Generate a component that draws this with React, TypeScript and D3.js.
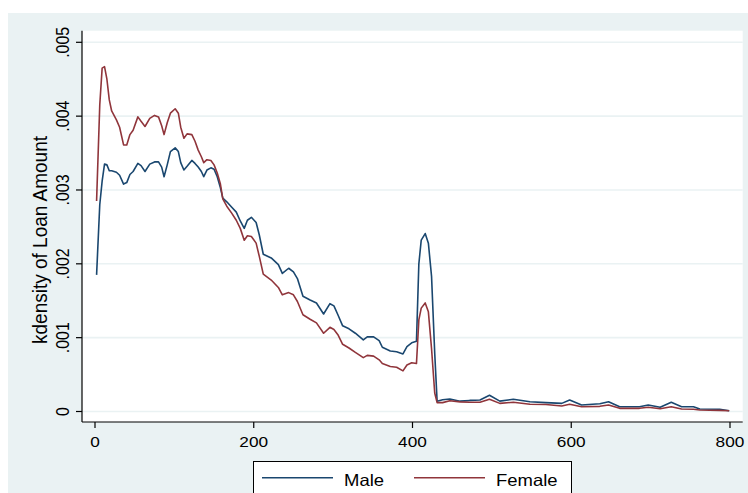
import * as d3 from 'd3'
import { useEffect, useRef } from 'react'

// loan amount grid (x) and kernel density values, in units of 0.001
const loanAmount = [
  2, 6, 9, 12, 15, 18, 21, 27, 31, 36,
  40, 44, 48, 54, 58, 63, 69, 75, 80, 84,
  87, 91, 95, 101, 105, 108, 112, 116, 122, 126,
  130, 134, 137, 141, 146, 150, 154, 158, 161, 166,
  172, 178, 183, 188, 192, 197, 203, 207, 212, 222,
  231, 236, 244, 250, 255, 262, 271, 279, 288, 296,
  301, 306, 312, 320, 328, 338, 343, 351, 358, 362,
  372, 380, 388, 393, 399, 405, 408, 411, 416, 420,
  424, 428, 431, 438, 447, 460, 472, 485, 497, 510,
  527, 548, 568, 588, 598, 613, 636, 647, 661, 686,
  697, 712, 726, 739, 754, 762, 787, 799,
]
const maleDensity = [
  1.85, 2.8, 3.12, 3.35, 3.34, 3.26, 3.26, 3.24, 3.2, 3.08,
  3.1, 3.21, 3.25, 3.36, 3.33, 3.25, 3.35, 3.38, 3.38, 3.31,
  3.18, 3.34, 3.52, 3.57, 3.52, 3.37, 3.27, 3.32, 3.4, 3.36,
  3.31, 3.25, 3.18, 3.27, 3.3, 3.28, 3.18, 3.03, 2.89, 2.84,
  2.77, 2.7, 2.58, 2.48, 2.59, 2.63, 2.56, 2.39, 2.13, 2.08,
  1.99, 1.87, 1.94, 1.89, 1.8, 1.56, 1.51, 1.47, 1.32, 1.46,
  1.43, 1.31, 1.16, 1.12, 1.06, 0.97, 1.01, 1.01, 0.96, 0.87,
  0.82, 0.81, 0.78, 0.88, 0.93, 0.95, 2.0, 2.32, 2.41, 2.28,
  1.83, 0.79, 0.14, 0.16, 0.17, 0.14, 0.15, 0.156, 0.22, 0.14,
  0.165, 0.133, 0.12, 0.11, 0.156, 0.088, 0.106, 0.133, 0.065, 0.065,
  0.088, 0.057, 0.125, 0.065, 0.065, 0.034, 0.03, 0.011,
]
const femaleDensity = [
  2.85, 4.15, 4.65, 4.67, 4.5, 4.22, 4.07, 3.95, 3.85, 3.61,
  3.61, 3.75, 3.81, 3.99, 3.93, 3.86, 3.97, 4.01, 3.99, 3.87,
  3.75, 3.91, 4.04, 4.1, 4.04, 3.85, 3.7, 3.76, 3.75, 3.66,
  3.54, 3.45, 3.37, 3.41, 3.4, 3.34, 3.23, 3.08, 2.88, 2.78,
  2.69, 2.59, 2.48, 2.32, 2.38, 2.37, 2.28, 2.1, 1.86, 1.78,
  1.68, 1.58, 1.61, 1.58, 1.49, 1.31, 1.25, 1.2, 1.06, 1.14,
  1.11, 1.04, 0.91, 0.86, 0.8, 0.73, 0.76, 0.75, 0.7, 0.65,
  0.61, 0.6, 0.55, 0.63, 0.66, 0.65, 1.24, 1.4, 1.47, 1.35,
  0.85, 0.25, 0.12, 0.12, 0.146, 0.13, 0.125, 0.125, 0.165, 0.11,
  0.125, 0.098, 0.095, 0.075, 0.098, 0.065, 0.07, 0.088, 0.043, 0.043,
  0.057, 0.038, 0.065, 0.034, 0.03, 0.02, 0.015, 0.011,
]
const xTicks = [0, 200, 400, 600, 800]
const yTicks = [0, 0.001, 0.002, 0.003, 0.004, 0.005]
const yTickLabels = ['0', '.001', '.002', '.003', '.004', '.005']
const seriesNames = ['Male', 'Female']
const seriesColors = ['#1a476f', '#90353b']

const W = 748
const H = 493
const FONT = "'Liberation Sans', Arial, sans-serif"
const STRETCH = 1.15

const App = () => {
  const svgRef = useRef<SVGSVGElement>(null)

  useEffect(() => {
    const svg = d3.select(svgRef.current)
    svg.selectAll('*').remove()

    // plot region
    const plot = { left: 82, right: 742.7, top: 30.7, bottom: 422 }

    // backgrounds
    svg.append('rect').attr('width', W).attr('height', H).attr('fill', '#fff')
    svg.append('rect').attr('x', 8).attr('y', 13).attr('width', W - 8).attr('height', H - 13).attr('fill', '#eaf2f3')
    svg
      .append('rect')
      .attr('x', plot.left)
      .attr('y', plot.top)
      .attr('width', plot.right - plot.left)
      .attr('height', plot.bottom - plot.top)
      .attr('fill', '#fff')

    const xScale = d3.scaleLinear().domain([0, 800]).range([95, 730])
    const yScale = d3.scaleLinear().domain([0, 0.005]).range([411.5, 42.3])

    // grid
    svg
      .append('g')
      .selectAll('line')
      .data(yTicks)
      .enter()
      .append('line')
      .attr('x1', plot.left)
      .attr('x2', plot.right)
      .attr('y1', (d) => yScale(d))
      .attr('y2', (d) => yScale(d))
      .attr('stroke', '#eaf2f3')
      .attr('stroke-width', 1.6)

    // series
    const line = d3
      .line<number>()
      .x((_, i) => xScale(loanAmount[i]))
      .y((d) => yScale(d * 0.001))
    ;[maleDensity, femaleDensity].forEach((values, k) => {
      svg
        .append('path')
        .datum(values)
        .attr('d', line)
        .attr('fill', 'none')
        .attr('stroke', seriesColors[k])
        .attr('stroke-width', 1.6)
        .attr('stroke-linejoin', 'round')
    })

    // axes lines
    svg
      .append('line')
      .attr('x1', plot.left)
      .attr('x2', plot.left)
      .attr('y1', plot.top)
      .attr('y2', plot.bottom)
      .attr('stroke', '#000')
      .attr('stroke-width', 1.2)
    svg
      .append('line')
      .attr('x1', plot.left)
      .attr('x2', plot.right)
      .attr('y1', plot.bottom)
      .attr('y2', plot.bottom)
      .attr('stroke', '#000')
      .attr('stroke-width', 1.2)

    // y ticks + labels (rotated)
    const yAxis = svg.append('g')
    yTicks.forEach((t, i) => {
      yAxis
        .append('line')
        .attr('x1', 76)
        .attr('x2', plot.left)
        .attr('y1', yScale(t))
        .attr('y2', yScale(t))
        .attr('stroke', '#000')
        .attr('stroke-width', 1.2)
      yAxis
        .append('text')
        .attr('transform', `translate(69,${yScale(t)}) scale(${STRETCH},1) rotate(-90)`)
        .attr('text-anchor', 'middle')
        .style('font-family', FONT)
        .style('font-size', '16px')
        .attr('fill', '#000')
        .text(yTickLabels[i])
    })

    // x ticks + labels
    const xAxis = svg.append('g')
    xTicks.forEach((t) => {
      xAxis
        .append('line')
        .attr('x1', xScale(t))
        .attr('x2', xScale(t))
        .attr('y1', plot.bottom)
        .attr('y2', 428)
        .attr('stroke', '#000')
        .attr('stroke-width', 1.2)
      xAxis
        .append('text')
        .attr('transform', `translate(${xScale(t)},447) scale(${STRETCH},1)`)
        .attr('text-anchor', 'middle')
        .style('font-family', FONT)
        .style('font-size', '15px')
        .attr('fill', '#000')
        .text(String(t))
    })

    // y title
    svg
      .append('text')
      .attr('transform', `translate(47,240) scale(1.05,1) rotate(-90)`)
      .attr('text-anchor', 'middle')
      .style('font-family', FONT)
      .style('font-size', '19px')
      .attr('fill', '#000')
      .text('kdensity of Loan Amount')

    // legend
    const legend = svg.append('g')
    legend
      .append('rect')
      .attr('x', 253.5)
      .attr('y', 461.5)
      .attr('width', 318)
      .attr('height', 40)
      .attr('fill', '#fff')
      .attr('stroke', '#000')
      .attr('stroke-width', 1)
    const legendX = [262, 414]
    seriesNames.forEach((name, k) => {
      legend
        .append('line')
        .attr('x1', legendX[k])
        .attr('x2', legendX[k] + 71)
        .attr('y1', 477.7)
        .attr('y2', 477.7)
        .attr('stroke', seriesColors[k])
        .attr('stroke-width', 1.6)
      legend
        .append('text')
        .attr('transform', `translate(${legendX[k] + 82},486) scale(1.12,1)`)
        .style('font-family', FONT)
        .style('font-size', '16.5px')
        .attr('fill', '#000')
        .text(name)
    })
  }, [])

  return (
    <svg
      ref={svgRef}
      width={W}
      height={H}
      style={{ position: 'absolute', left: 0, top: 0, display: 'block' }}
    />
  )
}

export default App
